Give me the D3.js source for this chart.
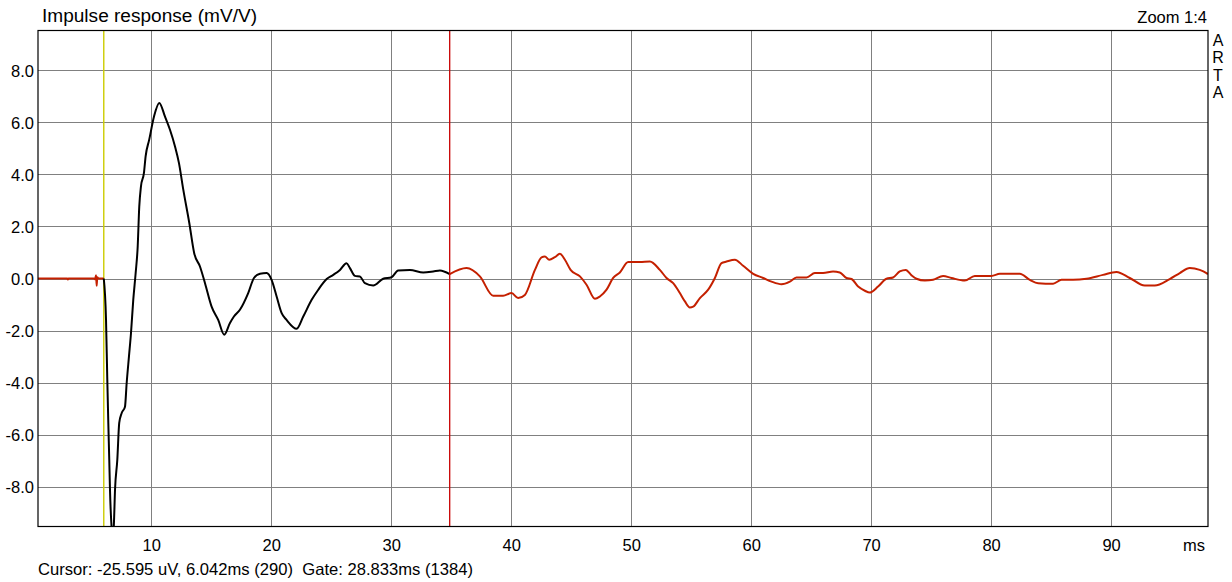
<!DOCTYPE html>
<html><head><meta charset="utf-8">
<script src="https://cdn.jsdelivr.net/npm/d3@7"></script>
<style>
html,body{margin:0;padding:0;background:#fff;}
svg text{font-family:"Liberation Sans",Arial,sans-serif;fill:#000;}
</style></head>
<body>
<svg id="c" width="1232" height="582"></svg>
<script>
const xTicks = [10,20,30,40,50,60,70,80,90];
const yTicks = [8,6,4,2,0,-2,-4,-6,-8];
const yTickLabels = ["8.0","6.0","4.0","2.0","0.0","-2.0","-4.0","-6.0","-8.0"];
const cursorMs = 6.042;
const gateMs = 28.833;
const titleText = "Impulse response (mV/V)";
const zoomText = "Zoom 1:4";
const footerText = "Cursor: -25.595 uV, 6.042ms (290)  Gate: 28.833ms (1384)";
const sideText = "ARTA";

const times = [0.56,3.0,3.05,3.1,5.2,5.3,5.4,5.45,5.5,5.6,6.042,
6.23,6.33,6.42,6.50,6.56,6.70,6.78,6.88,6.98,7.17,7.33,7.53,7.81,7.95,8.14,8.31,8.50,8.70,8.87,9.00,9.14,9.39,9.53,9.83,10.23,10.67,11.14,11.56,11.98,12.31,12.67,13.17,13.58,14.06,14.48,15.03,15.58,16.08,16.56,16.89,17.39,18.08,18.56,19.06,19.62,20.03,20.45,20.87,21.28,22.12,22.67,23.37,23.92,24.62,25.17,25.73,26.28,26.56,26.98,27.39,27.81,28.50,29.33,30.03,30.58,31.56,32.67,33.50,34.06,34.875,
36.28,37.39,38.50,39.33,40.03,40.58,41.14,41.98,42.53,42.81,43.17,43.64,44.06,44.48,44.95,45.73,46.28,46.98,47.39,47.95,48.50,49.06,49.75,50.73,51.56,52.39,52.95,53.50,54.06,54.48,54.89,55.17,55.73,56.42,56.98,57.53,57.95,58.64,59.33,60.17,61.00,61.70,62.53,63.23,63.78,64.62,65.31,66.00,66.83,67.39,67.95,68.37,68.92,69.48,69.89,70.58,71.28,71.83,72.39,72.89,73.37,73.78,74.48,75.17,76.00,76.70,77.81,78.64,80.03,80.73,82.39,83.23,83.92,85.17,85.87,86.83,87.95,89.33,90.45,91.56,92.81,93.64,94.89,95.73,96.56,97.39,97.95,98.08];
const values = [0,0,-0.04,0,0,-0.03,0.12,-0.28,0.05,0,0,
-1.59,-3.76,-5.54,-6.96,-8.11,-9.6,-10.0,-9.5,-8.11,-6.96,-5.54,-5.17,-4.92,-4.02,-3.00,-2.10,-0.82,0.21,1.23,2.76,3.53,4.05,4.69,5.33,6.22,6.74,6.22,5.71,5.07,4.43,3.41,2.13,0.97,0.46,-0.18,-1.08,-1.59,-2.16,-1.71,-1.46,-1.20,-0.56,0.02,0.18,0.21,-0.05,-0.69,-1.33,-1.59,-1.93,-1.46,-0.82,-0.43,-0.02,0.14,0.33,0.59,0.40,0.10,0.08,-0.18,-0.27,-0.01,0.05,0.31,0.33,0.23,0.27,0.31,0.17,
0.40,0.08,-0.66,-0.66,-0.56,-0.75,-0.63,0.33,0.81,0.84,0.72,0.82,0.95,0.72,0.33,0.08,-0.24,-0.78,-0.69,-0.43,0.02,0.23,0.63,0.63,0.65,0.33,0.02,-0.18,-0.56,-0.88,-1.11,-1.08,-0.75,-0.43,0.02,0.59,0.65,0.72,0.49,0.18,0.02,-0.12,-0.22,-0.12,0.04,0.04,0.21,0.21,0.27,0.23,0.02,-0.02,-0.31,-0.47,-0.54,-0.31,-0.01,0.04,0.27,0.33,0.12,-0.01,-0.08,-0.05,0.10,0.02,-0.08,0.10,0.10,0.18,0.18,-0.05,-0.18,-0.20,-0.05,-0.05,-0.01,0.14,0.25,0.02,-0.27,-0.27,-0.02,0.21,0.40,0.33,0.21,0.17];

const svg = d3.select("#c");
const L = 38, R = 1208, T = 30.5, B = 526.5;
const x = d3.scaleLinear().domain([0.56, 98.08]).range([L, R]);
const y = d3.scaleLinear().domain([-9.52, 9.52]).range([B, T]);
const FONT = "'Liberation Sans',Arial,sans-serif";

svg.append("defs").append("clipPath").attr("id","clip")
  .append("rect").attr("x",L).attr("y",T).attr("width",R-L).attr("height",B-T);

// grid
const g = svg.append("g");
g.selectAll(".gx").data(xTicks).enter().append("line")
  .attr("x1",d=>Math.round(x(d))+0.5).attr("x2",d=>Math.round(x(d))+0.5)
  .attr("y1",T).attr("y2",B).attr("stroke","#808080").attr("stroke-width",1);
g.selectAll(".gy").data(yTicks).enter().append("line")
  .attr("y1",d=>Math.round(y(d))+0.5).attr("y2",d=>Math.round(y(d))+0.5)
  .attr("x1",L).attr("x2",R).attr("stroke","#808080").attr("stroke-width",1);

// axes labels via d3 axes
const xAxis = d3.axisBottom(x).tickValues(xTicks).tickSize(0).tickPadding(0).tickFormat(d3.format("d"));
const xa = svg.append("g").attr("transform",`translate(0,${B})`).call(xAxis);
xa.select(".domain").remove();
xa.selectAll("text").attr("dy",0).attr("y",24).style("font-size","16.5px").style("font-family",FONT).attr("fill","#000");

const yAxis = d3.axisLeft(y).tickValues(yTicks).tickSize(0).tickPadding(0).tickFormat((d,i)=>yTickLabels[i]);
const ya = svg.append("g").attr("transform",`translate(${L-4},0)`).call(yAxis);
ya.select(".domain").remove();
ya.selectAll("text").attr("dy","0.36em").style("font-size","16.5px").style("font-family",FONT).attr("fill","#000");

// cursor line
svg.append("line").attr("x1",x(cursorMs)).attr("x2",x(cursorMs)).attr("y1",T).attr("y2",B)
  .attr("stroke","#cccc00").attr("stroke-width",1.4);

// curve
const pts = times.map((t,i)=>({t, v: values[i]}));
const gateEnd = cursorMs + gateMs;
const pre = pts.filter(p=>p.t<=cursorMs+1e-6);
const mid = pts.filter(p=>p.t>=cursorMs-1e-6 && p.t<=gateEnd+1e-6);
const post = pts.filter(p=>p.t>=gateEnd-1e-6);
const line = d3.line().x(p=>x(p.t)).y(p=>y(p.v)).curve(d3.curveMonotoneX);
const cg = svg.append("g").attr("clip-path","url(#clip)");
cg.append("path").attr("d",line(pre)).attr("fill","none").attr("stroke","#c42000").attr("stroke-width",2);
cg.append("path").attr("d",line(post)).attr("fill","none").attr("stroke","#c42000").attr("stroke-width",2);
cg.append("path").attr("d",line(mid)).attr("fill","none").attr("stroke","#000").attr("stroke-width",2);

svg.append("line").attr("x1",x(gateEnd)).attr("x2",x(gateEnd)).attr("y1",T).attr("y2",B)
  .attr("stroke","#c80000").attr("stroke-width",1.3);

// frame
svg.append("rect").attr("x",L).attr("y",T).attr("width",R-L).attr("height",B-T)
  .attr("fill","none").attr("stroke","#000").attr("stroke-width",1.2);

// texts
svg.append("text").attr("x",42).attr("y",22).style("font-size","18px")
  .attr("textLength",215).attr("lengthAdjust","spacingAndGlyphs").text(titleText);
svg.append("text").attr("x",1207).attr("y",23).attr("text-anchor","end").style("font-size","16.5px").text(zoomText);
svg.append("text").attr("x",1205).attr("y",551).attr("text-anchor","end").style("font-size","16.5px").text("ms");
svg.append("text").attr("x",38).attr("y",575).style("font-size","16.5px").style("white-space","pre")
  .attr("xml:space","preserve").attr("textLength",435).attr("lengthAdjust","spacingAndGlyphs").text(footerText);
svg.append("text").attr("x",1218).attr("y",32)
  .style("writing-mode","vertical-rl").style("text-orientation","upright")
  .style("font-size","16px").style("letter-spacing","0.3px").text(sideText);
</script>
</body></html>
